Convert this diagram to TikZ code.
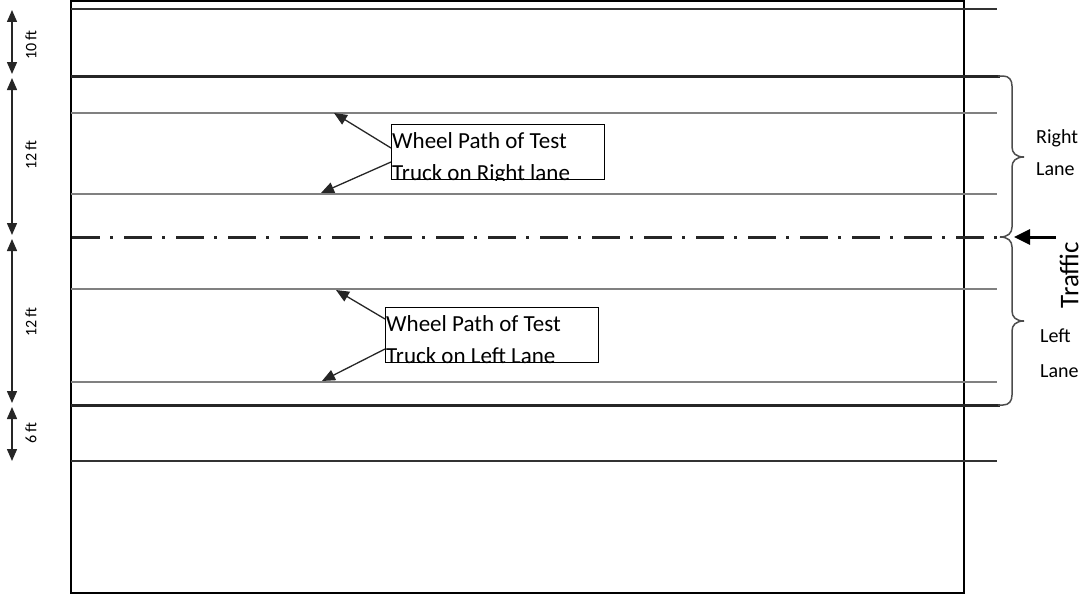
\documentclass[tikz,border=0pt]{standalone}
\usepackage{fontspec}
\setmainfont{Carlito}
\usetikzlibrary{arrows.meta,calc}
\begin{document}
\begin{tikzpicture}[x=1pt,y=-1pt,
  thinlane/.style={draw=black!50,line width=1.3pt},
  edgeline/.style={draw=black!80,line width=2pt},
  lanebound/.style={draw=black!85,line width=3pt},
  centerline/.style={draw=black!85,line width=3pt,dash pattern=on 28pt off 10pt on 3pt off 11pt},
  bracestyle/.style={draw=black!70,line width=1.5pt},
  ptr/.style={draw=black!85,line width=1.3pt,-{Triangle[length=13pt,width=11pt]}},
  dimarrow/.style={draw=black!85,line width=1.5pt,{Triangle[length=12pt,width=10pt]}-{Triangle[length=12pt,width=10pt]}},
  boxstyle/.style={draw=black,line width=1.2pt,inner sep=0pt,anchor=north west},
  boxtext/.style={inner sep=0pt,anchor=base west,font=\fontsize{23}{27}\selectfont},
  sidetext/.style={inner sep=0pt,anchor=base west,font=\fontsize{20}{24}\selectfont},
  dimtext/.style={inner sep=0pt,rotate=90,font=\fontsize{16}{18}\selectfont}
]
\useasboundingbox (0,0) rectangle (1083,594);
% outer rectangle
\draw[line width=1.5pt] (71,1) rectangle (964,593);
% horizontal lines
\draw[edgeline] (71,9) -- (997,9);
\draw[edgeline] (71,461) -- (997,461);
\draw[thinlane] (71,113) -- (997,113);
\draw[thinlane] (71,194) -- (997,194);
\draw[thinlane] (71,289) -- (997,289);
\draw[thinlane] (71,382) -- (997,382);
\draw[lanebound] (71,76) -- (1000,76);
\draw[lanebound] (71,405) -- (1000,405);
\draw[centerline] (72,237) -- (1000,237);
% braces
\draw[bracestyle] (998,76) -- (1003,76) .. controls (1009,76) and (1012,80) .. (1012,86)
  -- (1012,147) .. controls (1012,153) and (1016,157) .. (1024,157)
  .. controls (1016,157) and (1012,161) .. (1012,167)
  -- (1012,227) .. controls (1012,233) and (1008,237) .. (1000,237);
\draw[bracestyle] (1000,237) .. controls (1008,237) and (1012,241) .. (1012,247)
  -- (1012,311) .. controls (1012,317) and (1016,321) .. (1024,321)
  .. controls (1016,321) and (1012,325) .. (1012,331)
  -- (1012,395) .. controls (1012,401) and (1009,405) .. (1003,405) -- (998,405);
% traffic arrow
\coordinate (ts) at (1056,237);
\coordinate (te) at (1014,237);
\draw[draw=black,line width=3pt,-{Triangle[length=16pt,width=15pt]}] (ts) -- (te);
\node[inner sep=0pt,rotate=90,font=\fontsize{27}{30}\selectfont] (traffic) at (1069,275) {Traffic};
\node[sidetext] (right) at (1036,143) {Right};
\node[sidetext] (rlane) at (1036,175) {Lane};
\node[sidetext] (left) at (1040,342) {Left};
\node[sidetext] (llane) at (1040,377) {Lane};
% dimension arrows
\coordinate (d0) at (12,9);
\coordinate (d1) at (12,76);
\coordinate (d2) at (12,237);
\coordinate (d3) at (12,405);
\coordinate (d4) at (12,461);
\draw[dimarrow] ($(d0)+(0,1)$) -- ($(d1)+(0,-2)$);
\draw[dimarrow] ($(d1)+(0,2)$) -- ($(d2)+(0,-2)$);
\draw[dimarrow] ($(d2)+(0,2)$) -- ($(d3)+(0,-2)$);
\draw[dimarrow] ($(d3)+(0,2)$) -- ($(d4)+(0,0)$);
\node[dimtext] (dim1) at (31,45) {10 ft};
\node[dimtext] (dim2) at (31,155) {12 ft};
\node[dimtext] (dim3) at (31,322) {12 ft};
\node[dimtext] (dim4) at (31,433) {6 ft};
% wheel path boxes
\node[boxstyle,minimum width=213pt,minimum height=55pt] (box1) at (391,124) {};
\begin{scope}
  \clip (box1.south west) rectangle (box1.north east);
  \node[boxtext] (b1a) at (392,148) {Wheel Path of Test};
  \node[boxtext] (b1b) at (392,180) {Truck on Right lane};
\end{scope}
\node[boxstyle,minimum width=213pt,minimum height=55pt] (box2) at (385,307) {};
\begin{scope}
  \clip (box2.south west) rectangle (box2.north east);
  \node[boxtext] (b2a) at (386,331) {Wheel Path of Test};
  \node[boxtext] (b2b) at (386,363) {Truck on Left Lane};
\end{scope}
\coordinate (w1) at (334,113);
\coordinate (w2) at (321,193);
\coordinate (w3) at (336,290);
\coordinate (w4) at (322,381);
\draw[ptr] ($(box1.north west)+(0,24)$) -- (w1);
\draw[ptr] ($(box1.north west)+(0,38)$) -- (w2);
\draw[ptr] ($(box2.north west)+(0,12)$) -- (w3);
\draw[ptr] ($(box2.north west)+(0,42)$) -- (w4);
\end{tikzpicture}
\end{document}
